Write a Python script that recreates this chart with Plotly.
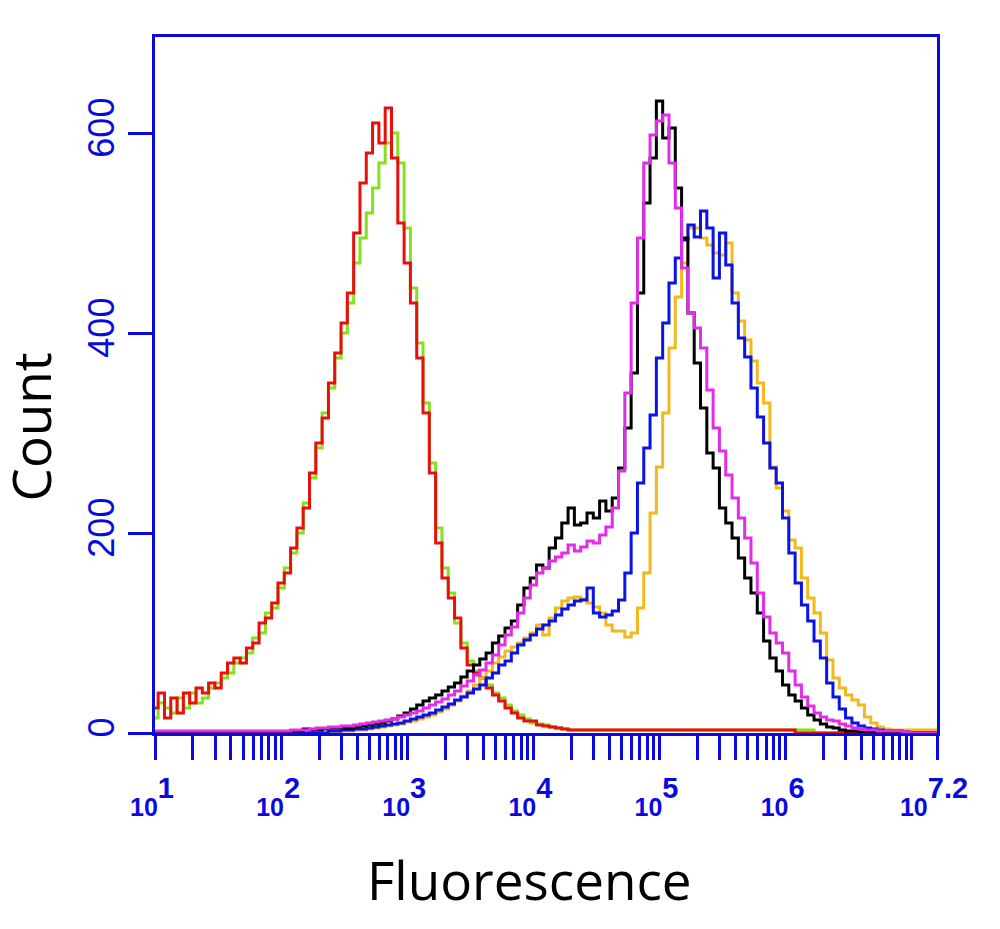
"""
Flow cytometry overlay: count vs fluorescence (log scale), six samples.
"""

import plotly.graph_objects as go

# ── data: bin centres in log10 units, 1.0 → 7.2 in 0.05 steps ───────────────
BIN_LOG = [round(1.0 + 0.05 * i, 2) for i in range(125)]

RED = [
    25, 40, 15, 35, 20, 40, 30, 45, 40, 50,
    45, 60, 70, 75, 70, 85, 90, 110, 115, 130,
    150, 160, 185, 205, 225, 260, 290, 315, 350, 380,
    410, 440, 500, 550, 580, 610, 590, 625, 575, 510,
    470, 430, 375, 320, 260, 190, 155, 135, 115, 85,
    68, 60, 55, 45, 38, 32, 25, 20, 15, 12,
    12, 8, 7, 6, 5, 4, 3, 3, 3, 3,
    3, 3, 3, 3, 3, 3, 3, 3, 3, 3,
    3, 3, 3, 3, 3, 3, 3, 3, 3, 3,
    3, 3, 3, 3, 3, 3, 3, 3, 3, 3,
    3, 3, 0, 0, 0, 0, 0, 0, 0, 0,
    0, 0, 0, 0, 0, 0, 0, 0, 0, 0,
    0, 0, 0, 0, 0,
]
GREEN = [
    15, 30, 25, 20, 35, 25, 40, 30, 35, 45,
    50, 55, 60, 70, 75, 80, 95, 100, 120, 125,
    145, 165, 180, 200, 230, 255, 285, 320, 345, 375,
    400, 430, 470, 495, 520, 545, 570, 590, 600, 570,
    505, 445, 390, 330, 270, 205, 165, 140, 110, 90,
    72, 62, 55, 48, 40, 35, 28, 22, 18, 14,
    10, 9, 8, 6, 5, 4, 3, 3, 3, 3,
    3, 3, 3, 3, 3, 3, 3, 3, 3, 3,
    3, 3, 3, 3, 3, 3, 3, 3, 3, 3,
    3, 3, 3, 3, 3, 3, 3, 3, 3, 3,
    3, 3, 3, 3, 3, 0, 0, 0, 0, 0,
    0, 0, 0, 0, 0, 0, 0, 0, 0, 0,
    0, 0, 0, 0, 0,
]
BLACK = [
    0, 0, 0, 0, 0, 0, 0, 0, 0, 0,
    0, 0, 0, 0, 0, 0, 0, 0, 0, 0,
    0, 0, 2, 2, 4, 3, 3, 4, 5, 5,
    5, 5, 6, 7, 8, 9, 10, 12, 14, 17,
    20, 24, 28, 32, 35, 38, 42, 46, 50, 56,
    62, 68, 74, 80, 90, 97, 105, 112, 128, 145,
    155, 168, 165, 185, 195, 210, 225, 208, 210, 220,
    215, 232, 222, 235, 265, 305, 360, 440, 530, 575,
    632, 595, 605, 545, 495, 420, 370, 325, 280, 265,
    225, 210, 195, 175, 155, 140, 120, 92, 75, 62,
    48, 38, 32, 25, 18, 13, 9, 6, 5, 3,
    2, 2, 1, 1, 1, 2, 1, 1, 1, 0,
    0, 0, 0, 0, 0,
]
MAGENTA = [
    2, 2, 2, 2, 2, 2, 2, 2, 2, 2,
    2, 2, 2, 2, 2, 2, 2, 2, 2, 2,
    2, 2, 3, 3, 3, 4, 5, 5, 6, 6,
    7, 7, 8, 9, 10, 11, 12, 13, 14, 16,
    18, 20, 22, 25, 28, 31, 34, 38, 42, 47,
    52, 58, 63, 70, 78, 88, 98, 106, 120, 135,
    148, 160, 165, 172, 176, 180, 188, 182, 186, 192,
    190, 198, 206, 225, 262, 340, 430, 495, 570, 598,
    612, 618, 570, 525, 465, 420, 405, 385, 343, 305,
    282, 258, 235, 215, 195, 170, 140, 116, 100, 90,
    80, 62, 48, 36, 27, 20, 16, 13, 12, 9,
    7, 5, 4, 3, 3, 2, 2, 2, 2, 1,
    0, 0, 0, 0, 0,
]
BLUE = [
    0, 0, 0, 0, 0, 0, 0, 0, 0, 0,
    0, 0, 0, 0, 0, 0, 0, 0, 0, 0,
    0, 0, 0, 0, 0, 0, 0, 0, 2, 2,
    3, 3, 4, 4, 5, 6, 7, 8, 9, 10,
    12, 14, 16, 18, 20, 23, 26, 29, 33, 36,
    40, 44, 48, 55, 60, 68, 72, 80, 88, 93,
    98, 104, 108, 112, 118, 124, 128, 132, 133, 145,
    120, 116, 118, 122, 133, 160, 200, 250, 285, 318,
    375, 410, 450, 475, 493, 508, 496, 522, 505, 455,
    500, 468, 430, 395, 376, 345, 316, 290, 265, 250,
    215, 180, 150, 128, 112, 92, 75, 50, 36, 24,
    15, 10, 7, 5, 4, 3, 2, 2, 2, 1,
    0, 0, 0, 0, 0,
]
GOLD = [
    0, 0, 0, 0, 0, 0, 0, 0, 0, 0,
    0, 0, 0, 0, 0, 0, 0, 0, 0, 0,
    0, 0, 0, 0, 0, 0, 0, 0, 0, 0,
    2, 2, 3, 3, 4, 5, 6, 7, 8, 9,
    11, 12, 14, 16, 18, 21, 24, 28, 32, 37,
    42, 48, 55, 62, 70, 76, 82, 86, 90, 95,
    100, 108, 98, 115, 125, 132, 135, 136, 134, 130,
    126, 120, 108, 102, 102, 96, 100, 125, 160, 220,
    266, 320, 385, 436, 470, 505, 505, 495, 488, 480,
    478, 490, 440, 412, 393, 372, 350, 330, 266, 245,
    222, 193, 185, 155, 135, 120, 100, 73, 55, 45,
    38, 33, 28, 16, 10, 6, 4, 3, 3, 3,
    3, 3, 3, 3, 3,
]

SERIES = [  # drawing order: later traces sit on top
    ("green", GREEN, "#86E01E"),
    ("red", RED, "#E8100C"),
    ("gold", GOLD, "#F2B81C"),
    ("blue", BLUE, "#0A14E6"),
    ("black", BLACK, "#000000"),
    ("magenta", MAGENTA, "#E22CE8"),
]

DECADES = [1, 2, 3, 4, 5, 6, 7.2]
DECADE_TEXT = ["1", "2", "3", "4", "5", "6", "7.2"]
Y_TICKS = [0, 200, 400, 600]

AXIS_BLUE = "#0A0AE0"

fig = go.Figure()
for name, counts, color in SERIES:
    fig.add_trace(go.Scatter(
        x=[10 ** v for v in BIN_LOG], y=counts, name=name,
        mode="lines", line=dict(color=color, width=3, shape="hvh"),
        showlegend=False))

minor_vals = [m * 10 ** d for d in range(1, 7) for m in range(2, 10)] + [1e7]
# exponent is bigger than the base in the original, so lift it twice and resize
tick_text = [
    f"<b>10<sup><sup><span style='font-size:29px'>{t}</span></sup></sup></b>"
    for t in DECADE_TEXT
]

fig.update_xaxes(
    type="log", range=[1, 7.2],
    tickmode="array", tickvals=[10 ** d for d in DECADES], ticktext=tick_text,
    ticks="outside", ticklen=24, tickwidth=3, tickcolor=AXIS_BLUE,
    tickfont=dict(family="Liberation Sans, Arial", size=25, color=AXIS_BLUE),
    ticklabelstandoff=26, ticklabelshift=-3,
    minor=dict(tickmode="array", tickvals=minor_vals, ticks="outside",
               ticklen=24, tickwidth=3, tickcolor=AXIS_BLUE, showgrid=False),
    showline=True, linecolor=AXIS_BLUE, linewidth=3, mirror=True,
    showgrid=False, zeroline=False,
)
fig.update_yaxes(
    range=[0, 696], tickmode="array", tickvals=Y_TICKS,
    ticks="outside", ticklen=24, tickwidth=3, tickcolor=AXIS_BLUE,
    tickangle=-90,
    tickfont=dict(family="Liberation Sans, Arial", size=36, color=AXIS_BLUE),
    showline=True, linecolor=AXIS_BLUE, linewidth=3, mirror=True,
    showgrid=False, zeroline=False,
)

# axis titles sit off-centre in the original, so place them as annotations
TITLE_FONT = dict(family="Open Sans", size=53, color="#000000")
fig.add_annotation(text="Fluorescence", xref="paper", yref="paper",
                   x=0.4795, y=-0.211, xanchor="center", yanchor="middle",
                   showarrow=False, font=TITLE_FONT)
fig.add_annotation(text="Count", xref="paper", yref="paper",
                   x=-0.159, y=0.44, xanchor="center", yanchor="middle",
                   textangle=-90, showarrow=False, font=TITLE_FONT)

fig.update_layout(
    width=1000, height=929,
    plot_bgcolor="#FFFFFF", paper_bgcolor="#FFFFFF",
    margin=dict(l=147, r=71, t=29, b=204),
)

fig.write_html("out.html")
